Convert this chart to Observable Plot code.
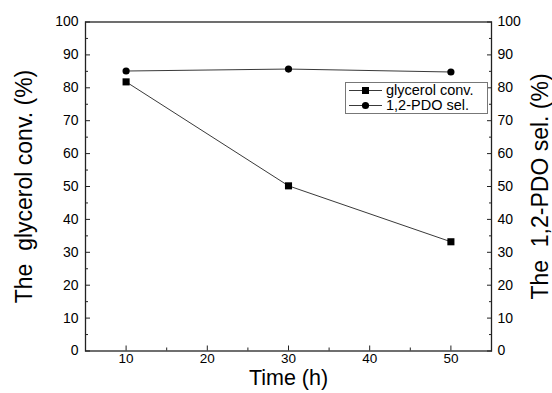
<!DOCTYPE html>
<html><head><meta charset="utf-8">
<script src="https://cdn.jsdelivr.net/npm/d3@7"></script>
<script src="https://cdn.jsdelivr.net/npm/@observablehq/plot@0.6"></script>
<style>
body{margin:0;background:#fff;}
#wrap{position:relative;width:552px;height:393px;font-family:"Liberation Sans",Arial,sans-serif;color:#000;}
#legend{position:absolute;left:345px;top:82px;width:141px;height:30px;border:1px solid #777;background:#fff;font-size:14.5px;line-height:15px;padding-top:0px;box-sizing:content-box;}
#legend .row{display:flex;align-items:center;height:15px;white-space:nowrap;}
#legend svg{flex:none;margin-left:2px;margin-right:3px;}
</style></head>
<body><div id="wrap"></div>
<script>
const time = [10, 30, 50];
const glycerolConv = [81.8, 50.2, 33.2];
const pdoSel = [85.1, 85.7, 84.8];
const seriesNames = ["glycerol conv.", "1,2-PDO sel."];
const seriesSymbols = ["square", "circle"];
const xMajorTicks = [10, 20, 30, 40, 50];
const xMinorTicks = [15, 25, 35, 45];
const yMajorTicks = [0, 10, 20, 30, 40, 50, 60, 70, 80, 90, 100];
const yMinorTicks = [5, 15, 25, 35, 45, 55, 65, 75, 85, 95];
const xTitle = "Time (h)";
const yLeftTitle = "The  glycerol conv. (%)";
const yRightTitle = "The  1,2-PDO sel. (%)";

const conv = time.map((t, i) => ({t, v: glycerolConv[i]}));
const sel = time.map((t, i) => ({t, v: pdoSel[i]}));
const ink = "#222";

const plot = Plot.plot({
  width: 552, height: 393,
  marginLeft: 85, marginRight: 61, marginTop: 21.5, marginBottom: 42.5,
  style: {fontFamily: '"Liberation Sans", Arial, sans-serif', fontSize: "14px", color: "#000", background: "#fff"},
  x: {domain: [5, 55]},
  y: {domain: [0, 100]},
  marks: [
    Plot.axisX({ticks: xMajorTicks, anchor: "bottom", tickSize: -5, fill: "none", stroke: ink, label: null}),
    Plot.axisX({ticks: xMinorTicks, anchor: "bottom", tickSize: -3, fill: "none", stroke: ink, label: null}),
    Plot.axisX({ticks: xMajorTicks, anchor: "bottom", tickSize: 0, tickPadding: 2, fontSize: 13.5, fill: "#000", label: null}),
    Plot.axisY({ticks: yMajorTicks, anchor: "left", tickSize: -5, fill: "none", stroke: ink, label: null}),
    Plot.axisY({ticks: yMinorTicks, anchor: "left", tickSize: -3, fill: "none", stroke: ink, label: null}),
    Plot.axisY({ticks: yMajorTicks, anchor: "left", tickSize: 0, tickPadding: 7, fontSize: 14, fill: "#000", label: null}),
    Plot.axisY({ticks: yMajorTicks, anchor: "right", tickSize: -5, fill: "none", stroke: ink, label: null}),
    Plot.axisY({ticks: yMinorTicks, anchor: "right", tickSize: -3, fill: "none", stroke: ink, label: null}),
    Plot.axisY({ticks: yMajorTicks, anchor: "right", tickSize: 0, tickPadding: 6, fontSize: 14, fill: "#000", label: null}),
    Plot.frame({stroke: ink, strokeWidth: 1.3}),
    Plot.line(conv, {x: "t", y: "v", stroke: ink, strokeWidth: 0.9}),
    Plot.line(sel, {x: "t", y: "v", stroke: ink, strokeWidth: 0.9}),
    Plot.dot(conv, {x: "t", y: "v", symbol: seriesSymbols[0], r: 4, fill: "#000", stroke: "none"}),
    Plot.dot(sel, {x: "t", y: "v", symbol: seriesSymbols[1], r: 3.6, fill: "#000", stroke: "none"}),
    Plot.text([xTitle], {text: d => d, frameAnchor: "bottom", textAnchor: "middle", dy: 33.5, fontSize: 21.5, fill: "#000"}),
    Plot.text([yLeftTitle], {text: d => d, frameAnchor: "left", textAnchor: "middle", rotate: -90, dx: -61, fontSize: 23, fill: "#000"}),
    Plot.text([yRightTitle], {text: d => d, frameAnchor: "right", textAnchor: "middle", rotate: -90, dx: 49, fontSize: 23, fill: "#000"})
  ]
});

const wrap = document.getElementById("wrap");
wrap.appendChild(plot);

const legend = document.createElement("div");
legend.id = "legend";
seriesNames.forEach((name, i) => {
  const row = document.createElement("div");
  row.className = "row";
  const sym = seriesSymbols[i] === "square"
    ? '<rect x="14" y="4" width="7" height="7" fill="#000"/>'
    : '<circle cx="17.5" cy="7.5" r="3.6" fill="#000"/>';
  row.innerHTML = '<svg width="35" height="15"><line x1="1" y1="7.5" x2="34" y2="7.5" stroke="#222" stroke-width="0.9"/>' + sym + '</svg><span>' + name + '</span>';
  legend.appendChild(row);
});
wrap.appendChild(legend);
</script>
</body></html>
